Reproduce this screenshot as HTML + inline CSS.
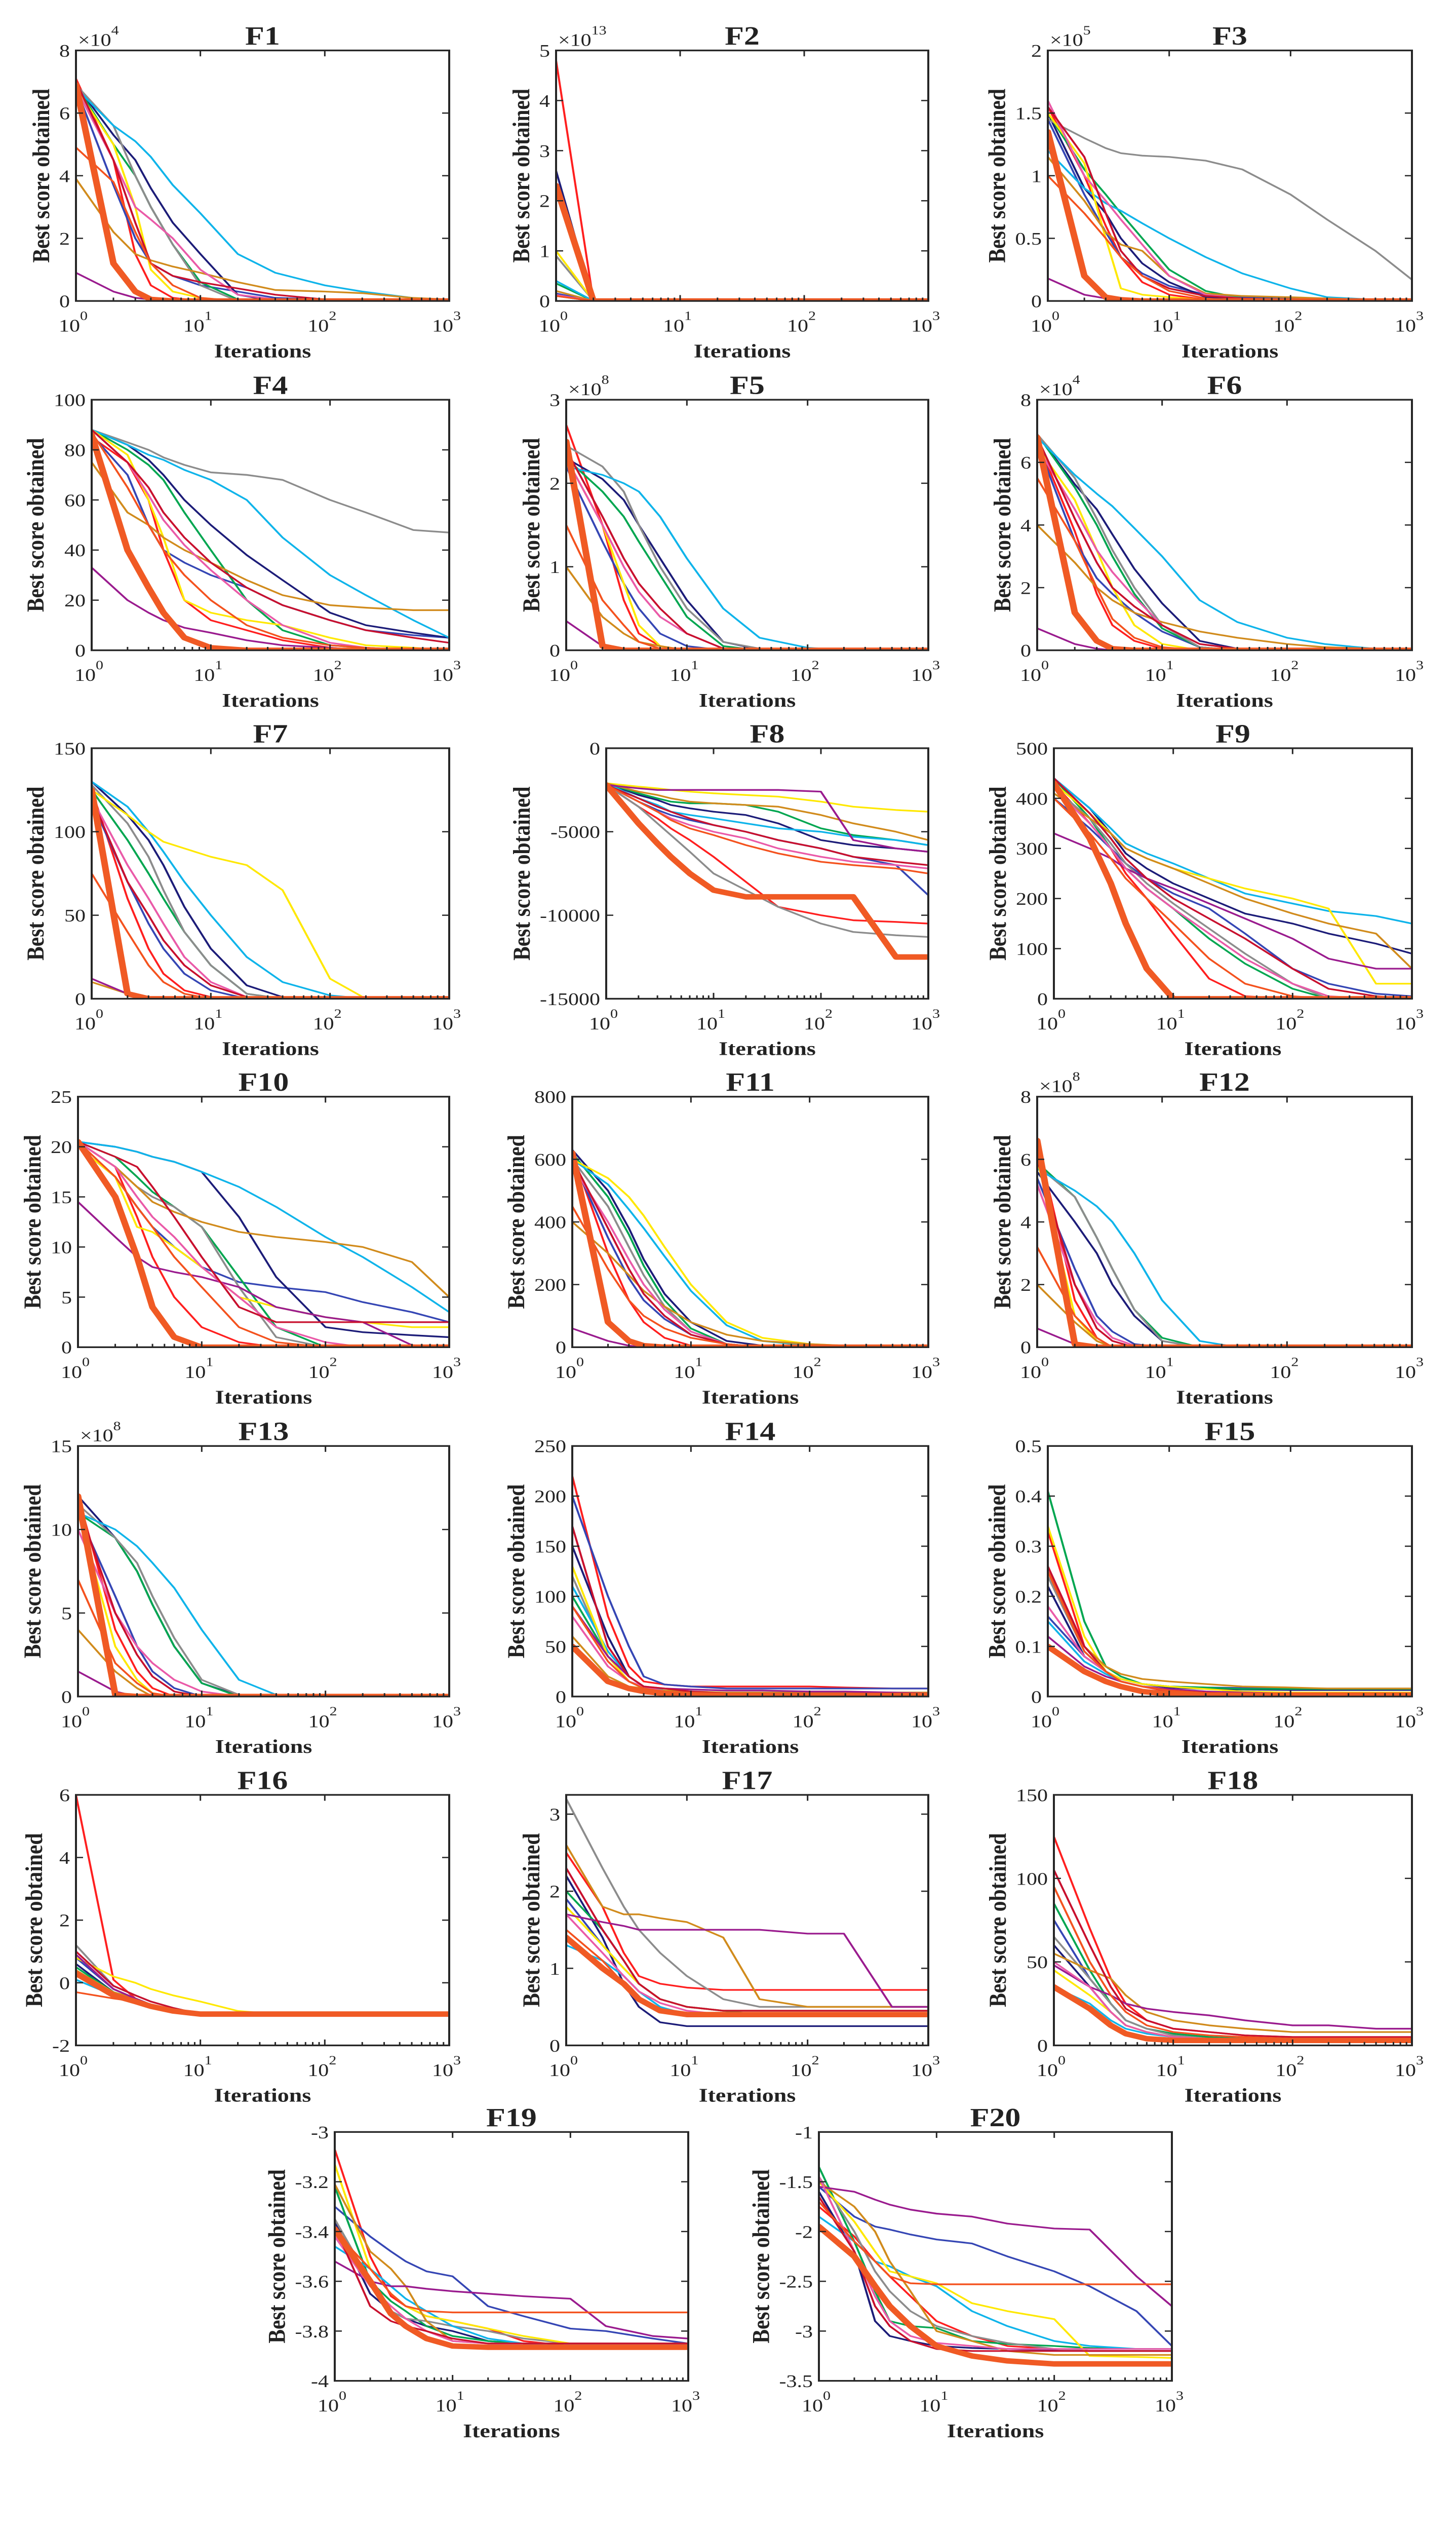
<!DOCTYPE html>
<html><head><meta charset="utf-8"><title>Convergence curves F1-F20</title>
<style>
html,body{margin:0;padding:0;background:#fff;width:100%;height:100%;overflow:hidden;}
svg{display:block;position:absolute;left:0;top:0;width:100vw;height:100vh;}
text{font-family:"Liberation Serif","DejaVu Serif",serif;fill:#222;}
</style></head>
<body>
<svg id="fig" xmlns="http://www.w3.org/2000/svg" viewBox="0 0 2875 6026" preserveAspectRatio="none"></svg>
<script>
// ---------- DATA ----------
const ITER = [1,2,3,4,6,10,20,40,100,200,500,1000];
// series order: red, blue, navy, green, gray, cyan, yellow, gold, purple, pink, crimson, orange, thick(proposed)
const SERIES_NAMES = ['red','blue','navy','green','gray','cyan','yellow','gold','purple','pink','crimson','orange','proposed'];

const F1_Y = [
[7.1,4.5,1.5,0.5,0.1,0,0,0,0,0,0,0],
[6.8,3.7,2.0,1.2,0.8,0.5,0.3,0.1,0.05,0,0,0],
[6.9,5.3,4.5,3.6,2.5,1.5,0.2,0,0,0,0,0],
[6.9,5.0,4.0,3.0,1.8,0.6,0.05,0,0,0,0,0],
[6.9,5.6,4.0,3.0,1.8,0.5,0,0,0,0,0,0],
[6.8,5.6,5.1,4.6,3.7,2.8,1.5,0.9,0.5,0.3,0.1,0],
[6.8,5.0,3.0,1.0,0.3,0.1,0,0,0,0,0,0],
[3.9,2.2,1.5,1.3,1.1,0.9,0.6,0.35,0.3,0.25,0.1,0.05],
[0.9,0.3,0.1,0.05,0,0,0,0,0,0,0,0],
[6.8,4.5,3.0,2.6,2.0,1.0,0.2,0.05,0,0,0,0],
[7.0,4.5,2.5,1.2,0.8,0.6,0.4,0.2,0.05,0,0,0],
[4.9,3.8,2.2,1.2,0.5,0.1,0,0,0,0,0,0],
[6.9,1.2,0.3,0.05,0,0,0,0,0,0,0,0]];
const F1_TICKS = [0,2,4,6,8];
const F1_LABELS = ['0','2','4','6','8'];

const F2_Y = [
[4.8,0,0,0,0,0,0,0,0,0,0,0],
[0.15,0,0,0,0,0,0,0,0,0,0,0],
[2.6,0,0,0,0,0,0,0,0,0,0,0],
[0.35,0,0,0,0,0,0,0,0,0,0,0],
[0.9,0,0,0,0,0,0,0,0,0,0,0],
[0.4,0,0,0,0,0,0,0,0,0,0,0],
[1.0,0,0,0,0,0,0,0,0,0,0,0],
[0.2,0,0,0,0,0,0,0,0,0,0,0],
[0.1,0,0,0,0,0,0,0,0,0,0,0],
[0.12,0,0,0,0,0,0,0,0,0,0,0],
[0.1,0,0,0,0,0,0,0,0,0,0,0],
[0.1,0,0,0,0,0,0,0,0,0,0,0],
[2.3,0,0,0,0,0,0,0,0,0,0,0]];
const F2_TICKS = [0,1,2,3,4,5];
const F2_LABELS = ['0','1','2','3','4','5'];

const F3_Y = [
[1.55,1.0,0.6,0.35,0.15,0.05,0.01,0,0,0,0,0],
[1.45,0.85,0.55,0.35,0.22,0.12,0.05,0.03,0.02,0.02,0.01,0.01],
[1.5,0.9,0.7,0.5,0.3,0.15,0.03,0.01,0,0,0,0],
[1.5,1.05,0.85,0.7,0.5,0.25,0.08,0.02,0.01,0,0,0],
[1.45,1.3,1.22,1.18,1.16,1.15,1.12,1.05,0.85,0.65,0.4,0.17],
[1.2,0.9,0.78,0.72,0.62,0.5,0.35,0.22,0.1,0.03,0.01,0],
[1.5,1.1,0.5,0.1,0.05,0.03,0.01,0,0,0,0,0],
[1.15,0.8,0.55,0.45,0.4,0.2,0.06,0.04,0.03,0.02,0.01,0.01],
[0.18,0.05,0.02,0.01,0,0,0,0,0,0,0,0],
[1.6,1.0,0.8,0.65,0.45,0.2,0.05,0.02,0,0,0,0],
[1.55,1.15,0.7,0.4,0.2,0.1,0.04,0.02,0.01,0,0,0],
[1.0,0.7,0.5,0.35,0.2,0.08,0.02,0,0,0,0,0],
[1.35,0.2,0.03,0.01,0,0,0,0,0,0,0,0]];
const F3_TICKS = [0,0.5,1,1.5,2];
const F3_LABELS = ['0','0.5','1','1.5','2'];

const F4_Y = [
[85,75,60,40,20,12,8,4,1,0,0,0],
[86,70,50,40,35,30,25,18,12,8,6,5],
[88,82,76,70,60,50,38,28,15,10,7,5],
[88,80,74,68,55,40,20,8,2,1,0,0],
[88,83,80,77,74,71,70,68,60,55,48,47],
[88,82,78,76,72,68,60,45,30,22,12,5],
[88,78,60,45,20,15,12,10,5,2,1,0],
[75,55,50,45,40,35,28,22,18,17,16,16],
[33,20,15,12,9,7,4,2,1,0,0,0],
[88,75,62,52,42,32,20,10,3,1,0,0],
[88,75,65,55,45,35,25,18,12,8,5,3],
[87,65,50,40,30,20,10,5,2,1,0,0],
[86,40,25,15,5,1,0,0,0,0,0,0]];
const F4_TICKS = [0,20,40,60,80,100];
const F4_LABELS = ['0','20','40','60','80','100'];

const F5_Y = [
[2.7,1.5,0.6,0.2,0.05,0,0,0,0,0,0,0],
[2.2,1.3,0.8,0.5,0.2,0.05,0,0,0,0,0,0],
[2.3,2.05,1.8,1.5,1.1,0.6,0.1,0.01,0,0,0,0],
[2.3,1.9,1.6,1.3,0.9,0.4,0.05,0,0,0,0,0],
[2.45,2.2,1.9,1.5,1.0,0.5,0.1,0.02,0,0,0,0],
[2.2,2.1,2.0,1.9,1.6,1.1,0.5,0.15,0.03,0,0,0],
[2.3,1.5,0.8,0.3,0.05,0,0,0,0,0,0,0],
[1.0,0.4,0.2,0.1,0.05,0,0,0,0,0,0,0],
[0.35,0.05,0,0,0,0,0,0,0,0,0,0],
[2.3,1.5,1.0,0.7,0.4,0.2,0.02,0,0,0,0,0],
[2.4,1.6,1.1,0.8,0.5,0.2,0.02,0,0,0,0,0],
[1.5,0.6,0.3,0.1,0.02,0,0,0,0,0,0,0],
[2.5,0.05,0,0,0,0,0,0,0,0,0,0]];
const F5_TICKS = [0,1,2,3];
const F5_LABELS = ['0','1','2','3'];

const F6_Y = [
[6.7,3.8,1.8,0.8,0.3,0.05,0,0,0,0,0,0],
[6.6,3.5,2.3,1.8,1.2,0.6,0.1,0,0,0,0,0],
[6.9,5.3,4.5,3.7,2.6,1.5,0.3,0.05,0,0,0,0],
[6.9,5.2,4.0,3.0,1.8,0.7,0.1,0,0,0,0,0],
[6.9,5.5,4.2,3.2,2.0,0.8,0.1,0,0,0,0,0],
[6.8,5.6,5.0,4.6,3.9,3.0,1.6,0.9,0.4,0.2,0.05,0],
[6.5,4.8,3.2,2.0,0.8,0.2,0,0,0,0,0,0],
[4.0,2.8,2.0,1.6,1.2,0.9,0.6,0.4,0.2,0.1,0.05,0.02],
[0.7,0.2,0.05,0,0,0,0,0,0,0,0,0],
[6.5,4.5,3.2,2.5,1.7,0.8,0.2,0.05,0,0,0,0],
[6.8,4.2,2.8,2.0,1.4,0.8,0.2,0.05,0,0,0,0],
[5.5,3.5,2.0,1.0,0.4,0.1,0,0,0,0,0,0],
[6.8,1.2,0.3,0.05,0,0,0,0,0,0,0,0]];
const F6_TICKS = [0,2,4,6,8];
const F6_LABELS = ['0','2','4','6','8'];

const F7_Y = [
[125,60,30,15,5,1,0,0,0,0,0,0],
[118,70,45,30,15,5,0,0,0,0,0,0],
[130,110,95,80,55,30,8,1,0,0,0,0],
[125,95,75,60,40,20,3,0,0,0,0,0],
[128,105,85,65,40,20,3,0,0,0,0,0],
[130,115,100,88,70,50,25,10,2,0,0,0],
[125,110,100,94,90,85,80,65,12,0,0,0],
[10,3,1,0,0,0,0,0,0,0,0,0],
[12,3,1,0,0,0,0,0,0,0,0,0],
[120,80,60,45,25,10,1,0,0,0,0,0],
[120,70,50,35,20,8,1,0,0,0,0,0],
[75,40,20,10,3,0,0,0,0,0,0,0],
[125,3,0,0,0,0,0,0,0,0,0,0]];
const F7_TICKS = [0,50,100,150];
const F7_LABELS = ['0','50','100','150'];

const F8_Y = [
[-2200,-3500,-4200,-4800,-5500,-6500,-8000,-9500,-10000,-10300,-10400,-10500],
[-2200,-3200,-3700,-4000,-4300,-4600,-5000,-5500,-6000,-6500,-7000,-8800],
[-2100,-2800,-3100,-3400,-3600,-3800,-4000,-4500,-5500,-5800,-6000,-6200],
[-2100,-2700,-3000,-3200,-3300,-3300,-3400,-3800,-4800,-5200,-5500,-5800],
[-2200,-3500,-4500,-5200,-6200,-7500,-8500,-9500,-10500,-11000,-11200,-11300],
[-2100,-3000,-3400,-3800,-4000,-4200,-4500,-4800,-5000,-5300,-5500,-5800],
[-2100,-2300,-2400,-2500,-2600,-2700,-2800,-2900,-3200,-3500,-3700,-3800],
[-2100,-2600,-2800,-3000,-3200,-3300,-3400,-3500,-4000,-4500,-5000,-5500],
[-2200,-2400,-2500,-2500,-2500,-2500,-2500,-2500,-2600,-5500,-6000,-6200],
[-2200,-3200,-3800,-4200,-4600,-5000,-5400,-6000,-6500,-6800,-7000,-7200],
[-2200,-3000,-3500,-3800,-4200,-4600,-5000,-5500,-6000,-6500,-6800,-7000],
[-2200,-3200,-3800,-4300,-4800,-5200,-5800,-6300,-6800,-7000,-7200,-7500],
[-2200,-4500,-5700,-6500,-7500,-8500,-8900,-8900,-8900,-8900,-12500,-12500]];
const F8_TICKS = [-15000,-10000,-5000,0];
const F8_LABELS = ['-15000','-10000','-5000','0'];

const F9_Y = [
[430,350,300,250,200,130,40,5,0,0,0,0],
[400,340,300,270,240,210,180,130,60,30,10,5],
[440,380,330,290,260,230,200,170,150,130,110,90],
[440,360,300,260,220,180,120,70,20,0,0,0],
[420,360,310,270,230,190,140,90,30,0,0,0],
[440,380,340,310,290,270,240,210,190,175,165,150],
[430,370,330,300,280,260,240,220,200,180,30,30],
[410,360,330,300,280,260,230,200,170,150,130,60],
[330,300,280,260,240,220,190,160,120,80,60,60],
[420,350,300,260,220,180,130,80,30,5,0,0],
[440,370,320,280,240,200,160,120,60,20,5,0],
[400,330,280,240,200,150,80,30,5,0,0,0],
[430,320,230,150,60,0,0,0,0,0,0,0]];
const F9_TICKS = [0,100,200,300,400,500];
const F9_LABELS = ['0','100','200','300','400','500'];

const F10_Y = [
[20.5,18,13,9,5,2,0.5,0,0,0,0,0],
[20,17,14,12,10,8,6.5,6,5.5,4.5,3.5,2.5],
[20.5,20,19.5,19,18.5,17.5,13,7,2,1.5,1.2,1],
[20.5,19,17,15.5,14,12,7,2,0,0,0,0],
[20.5,18,16,15,14,12,6,1,0,0,0,0],
[20.5,20,19.5,19,18.5,17.5,16,14,11,9,6,3.5],
[20,17,12,11.5,10,8,5,4,3,2.5,2,2],
[20.5,18,16,14.5,13.5,12.5,11.5,11,10.5,10,8.5,5],
[14.5,11,9,8,7.5,7,6,4,3,2.5,0.2,0],
[20.5,18,15,13,11,8,5,2,0.5,0,0,0],
[20.5,19,18,16,13,9,4,2.5,2.5,2.5,2.5,2.5],
[20.5,17,14,12,9,6,2,0.5,0,0,0,0],
[20.5,15,9,4,1,0,0,0,0,0,0,0]];
const F10_TICKS = [0,5,10,15,20,25];
const F10_LABELS = ['0','5','10','15','20','25'];

const F11_Y = [
[620,300,150,80,30,5,0,0,0,0,0,0],
[600,350,220,150,90,40,10,0,0,0,0,0],
[630,500,380,280,170,80,20,5,0,0,0,0],
[620,480,360,260,150,60,10,0,0,0,0,0],
[600,450,320,230,130,50,10,0,0,0,0,0],
[600,520,440,380,290,180,70,20,5,0,0,0],
[600,540,480,420,320,200,80,30,10,5,0,0],
[400,300,230,180,130,80,40,20,10,5,0,0],
[60,20,5,0,0,0,0,0,0,0,0,0],
[580,400,280,200,120,50,10,0,0,0,0,0],
[600,380,250,170,100,40,10,0,0,0,0,0],
[450,250,150,100,60,30,10,0,0,0,0,0],
[620,80,20,5,0,0,0,0,0,0,0,0]];
const F11_TICKS = [0,200,400,600,800];
const F11_LABELS = ['0','200','400','600','800'];

const F12_Y = [
[6.6,1.5,0.3,0,0,0,0,0,0,0,0,0],
[5.4,2.5,1.0,0.5,0.1,0,0,0,0,0,0,0],
[5.6,4.0,3.0,2.0,1.0,0.2,0,0,0,0,0,0],
[5.9,4.8,3.5,2.5,1.2,0.3,0,0,0,0,0,0],
[5.8,4.8,3.5,2.5,1.2,0.2,0,0,0,0,0,0],
[5.7,5.0,4.5,4.0,3.0,1.5,0.2,0,0,0,0,0],
[6.0,1.0,0.2,0,0,0,0,0,0,0,0,0],
[2.0,0.8,0.2,0,0,0,0,0,0,0,0,0],
[0.6,0.1,0,0,0,0,0,0,0,0,0,0],
[5.2,2.0,0.8,0.3,0.05,0,0,0,0,0,0,0],
[6.0,2.0,0.6,0.2,0,0,0,0,0,0,0,0],
[3.2,1.0,0.3,0,0,0,0,0,0,0,0,0],
[6.6,0.1,0,0,0,0,0,0,0,0,0,0]];
const F12_TICKS = [0,2,4,6,8];
const F12_LABELS = ['0','2','4','6','8'];

const F13_Y = [
[12,4,1.5,0.5,0,0,0,0,0,0,0,0],
[11,6,3,1.5,0.5,0,0,0,0,0,0,0],
[12,9.5,7.5,5.5,3,0.8,0.05,0,0,0,0,0],
[11,9.5,7.5,5.5,3,0.8,0,0,0,0,0,0],
[11.5,9.5,8,6,3.5,1,0.1,0,0,0,0,0],
[11,10,9,8,6.5,4,1,0.1,0,0,0,0],
[11,3,1,0.2,0,0,0,0,0,0,0,0],
[4,1.5,0.5,0,0,0,0,0,0,0,0,0],
[1.5,0.3,0,0,0,0,0,0,0,0,0,0],
[10,5,3,2,1,0.3,0,0,0,0,0,0],
[11.5,5,2.5,1.2,0.3,0,0,0,0,0,0,0],
[7,2,0.8,0.2,0,0,0,0,0,0,0,0],
[12,0.1,0,0,0,0,0,0,0,0,0,0]];
const F13_TICKS = [0,5,10,15];
const F13_LABELS = ['0','5','10','15'];

const F14_Y = [
[220,80,30,15,12,10,10,10,10,9,8,8],
[200,100,50,20,12,10,8,8,8,8,8,8],
[150,60,20,10,5,3,2,2,2,2,2,2],
[100,40,20,10,5,3,2,2,2,2,2,2],
[120,40,15,8,5,4,3,3,3,3,3,3],
[110,45,20,10,6,4,3,3,3,3,3,3],
[130,40,15,8,5,4,3,3,3,3,3,3],
[60,20,10,8,6,5,4,4,4,4,4,4],
[90,40,20,10,8,7,6,6,5,5,4,3],
[80,30,15,10,5,3,2,2,1,1,1,1],
[170,50,20,10,8,5,3,3,3,3,3,3],
[90,35,15,8,5,3,2,2,1,1,1,1],
[50,15,8,5,3,2,1,1,1,1,1,1]];
const F14_TICKS = [0,50,100,150,200,250];
const F14_LABELS = ['0','50','100','150','200','250'];

const F15_Y = [
[0.33,0.1,0.05,0.03,0.02,0.01,0.005,0.004,0.003,0.003,0.003,0.003],
[0.16,0.08,0.05,0.035,0.025,0.02,0.018,0.017,0.016,0.016,0.016,0.016],
[0.22,0.08,0.05,0.035,0.025,0.018,0.015,0.014,0.013,0.013,0.013,0.013],
[0.41,0.15,0.06,0.04,0.025,0.02,0.018,0.015,0.015,0.015,0.015,0.015],
[0.24,0.09,0.05,0.03,0.02,0.012,0.008,0.006,0.005,0.005,0.005,0.005],
[0.15,0.07,0.045,0.03,0.02,0.012,0.008,0.006,0.005,0.005,0.005,0.005],
[0.34,0.12,0.05,0.035,0.025,0.02,0.015,0.01,0.008,0.008,0.008,0.008],
[0.25,0.1,0.06,0.045,0.035,0.03,0.025,0.02,0.018,0.016,0.016,0.016],
[0.12,0.06,0.04,0.03,0.02,0.015,0.01,0.008,0.006,0.005,0.005,0.005],
[0.18,0.08,0.05,0.03,0.02,0.012,0.008,0.005,0.004,0.004,0.004,0.004],
[0.26,0.1,0.05,0.03,0.02,0.012,0.008,0.005,0.004,0.004,0.004,0.004],
[0.25,0.09,0.05,0.03,0.02,0.012,0.007,0.005,0.004,0.004,0.004,0.004],
[0.1,0.05,0.03,0.02,0.01,0.005,0.003,0.003,0.003,0.003,0.003,0.003]];
const F15_TICKS = [0,0.1,0.2,0.3,0.4,0.5];
const F15_LABELS = ['0','0.1','0.2','0.3','0.4','0.5'];

const F16_Y = [
[6,0.1,-0.5,-0.7,-0.85,-1,-1,-1,-1,-1,-1,-1],
[0.8,-0.2,-0.5,-0.7,-0.85,-1,-1,-1,-1,-1,-1,-1],
[0.6,-0.3,-0.55,-0.7,-0.85,-1,-1,-1,-1,-1,-1,-1],
[0.5,-0.3,-0.5,-0.7,-0.85,-1,-1,-1,-1,-1,-1,-1],
[1.2,-0.1,-0.4,-0.6,-0.8,-1,-1,-1,-1,-1,-1,-1],
[0.1,-0.4,-0.6,-0.75,-0.9,-1,-1,-1,-1,-1,-1,-1],
[0.8,0.2,0,-0.2,-0.4,-0.6,-0.9,-1,-1,-1,-1,-1],
[0.4,-0.3,-0.5,-0.7,-0.85,-1,-1,-1,-1,-1,-1,-1],
[0.9,-0.2,-0.5,-0.7,-0.85,-1,-1,-1,-1,-1,-1,-1],
[0.3,-0.35,-0.55,-0.7,-0.85,-1,-1,-1,-1,-1,-1,-1],
[1.0,-0.1,-0.4,-0.6,-0.8,-1,-1,-1,-1,-1,-1,-1],
[-0.3,-0.5,-0.6,-0.75,-0.9,-1,-1,-1,-1,-1,-1,-1],
[0.3,-0.4,-0.6,-0.75,-0.9,-1,-1,-1,-1,-1,-1,-1]];
const F16_TICKS = [-2,0,2,4,6];
const F16_LABELS = ['-2','0','2','4','6'];

const F17_Y = [
[2.5,1.8,1.2,0.9,0.8,0.75,0.72,0.72,0.72,0.72,0.72,0.72],
[1.9,1.3,1.0,0.8,0.6,0.5,0.45,0.45,0.45,0.45,0.45,0.45],
[2.2,1.4,0.8,0.5,0.3,0.25,0.25,0.25,0.25,0.25,0.25,0.25],
[2.0,1.5,1.1,0.8,0.6,0.5,0.45,0.4,0.4,0.4,0.4,0.4],
[3.2,2.3,1.8,1.5,1.2,0.9,0.6,0.5,0.5,0.5,0.5,0.5],
[1.3,1.1,0.9,0.7,0.5,0.4,0.4,0.4,0.4,0.4,0.4,0.4],
[1.8,1.3,1.0,0.8,0.6,0.5,0.45,0.45,0.45,0.45,0.45,0.45],
[2.6,1.8,1.7,1.7,1.65,1.6,1.4,0.6,0.5,0.5,0.5,0.5],
[1.7,1.6,1.55,1.5,1.5,1.5,1.5,1.5,1.45,1.45,0.5,0.5],
[1.7,1.2,0.9,0.7,0.55,0.45,0.4,0.4,0.4,0.4,0.4,0.4],
[2.3,1.5,1.1,0.8,0.6,0.5,0.45,0.45,0.45,0.45,0.45,0.45],
[1.5,1.1,0.8,0.6,0.45,0.4,0.4,0.4,0.4,0.4,0.4,0.4],
[1.4,1.0,0.8,0.6,0.45,0.4,0.4,0.4,0.4,0.4,0.4,0.4]];
const F17_TICKS = [0,1,2,3];
const F17_LABELS = ['0','1','2','3'];

const F18_Y = [
[125,70,40,25,15,10,8,6,5,5,5,5],
[75,40,25,15,10,7,5,4,4,4,4,4],
[60,35,20,12,8,5,4,3,3,3,3,3],
[85,45,25,15,10,7,5,4,3,3,3,3],
[65,40,25,15,10,6,4,3,3,3,3,3],
[35,25,15,10,7,5,4,3,3,3,3,3],
[45,30,20,12,8,5,4,3,3,3,3,3],
[55,45,40,30,20,15,12,10,8,8,8,8],
[48,35,30,25,22,20,18,15,12,12,10,10],
[50,35,20,12,8,5,4,3,3,3,3,3],
[105,60,35,22,15,10,8,6,5,5,5,5],
[95,50,30,20,12,8,6,5,4,4,4,4],
[35,22,12,7,4,3,3,3,3,3,3,3]];
const F18_TICKS = [0,50,100,150];
const F18_LABELS = ['0','50','100','150'];

const F19_Y = [
[-3.07,-3.5,-3.66,-3.7,-3.74,-3.76,-3.79,-3.84,-3.86,-3.86,-3.86,-3.86],
[-3.3,-3.42,-3.48,-3.52,-3.56,-3.58,-3.7,-3.74,-3.79,-3.8,-3.83,-3.85],
[-3.36,-3.65,-3.72,-3.75,-3.78,-3.8,-3.84,-3.85,-3.85,-3.85,-3.85,-3.85],
[-3.22,-3.6,-3.68,-3.72,-3.78,-3.82,-3.84,-3.85,-3.85,-3.85,-3.85,-3.85],
[-3.35,-3.6,-3.72,-3.75,-3.76,-3.78,-3.8,-3.83,-3.85,-3.85,-3.85,-3.85],
[-3.46,-3.55,-3.62,-3.67,-3.72,-3.78,-3.83,-3.85,-3.85,-3.85,-3.85,-3.85],
[-3.13,-3.55,-3.65,-3.7,-3.74,-3.76,-3.79,-3.82,-3.85,-3.85,-3.85,-3.85],
[-3.21,-3.48,-3.55,-3.62,-3.76,-3.84,-3.85,-3.85,-3.85,-3.85,-3.85,-3.85],
[-3.52,-3.6,-3.62,-3.62,-3.63,-3.64,-3.65,-3.66,-3.67,-3.78,-3.82,-3.83],
[-3.42,-3.62,-3.7,-3.75,-3.8,-3.84,-3.85,-3.85,-3.85,-3.85,-3.85,-3.85],
[-3.38,-3.7,-3.76,-3.78,-3.8,-3.83,-3.85,-3.85,-3.85,-3.85,-3.85,-3.85],
[-3.4,-3.55,-3.65,-3.7,-3.72,-3.725,-3.725,-3.725,-3.725,-3.725,-3.725,-3.725],
[-3.39,-3.6,-3.73,-3.78,-3.83,-3.86,-3.865,-3.865,-3.865,-3.865,-3.865,-3.865]];
const F19_TICKS = [-4,-3.8,-3.6,-3.4,-3.2,-3];
const F19_LABELS = ['-4','-3.8','-3.6','-3.4','-3.2','-3'];

const F20_Y = [
[-1.75,-2.05,-2.3,-2.45,-2.65,-2.9,-3.05,-3.15,-3.18,-3.2,-3.2,-3.2],
[-1.55,-1.85,-1.95,-1.98,-2.03,-2.08,-2.12,-2.25,-2.4,-2.55,-2.8,-3.15],
[-1.6,-2.2,-2.9,-3.05,-3.1,-3.15,-3.17,-3.18,-3.19,-3.2,-3.2,-3.2],
[-1.35,-2.1,-2.6,-2.9,-2.95,-2.97,-3.1,-3.13,-3.15,-3.17,-3.18,-3.18],
[-1.45,-2.0,-2.4,-2.6,-2.8,-2.95,-3.05,-3.12,-3.18,-3.2,-3.2,-3.2],
[-1.85,-2.1,-2.3,-2.35,-2.45,-2.55,-2.8,-2.95,-3.1,-3.15,-3.18,-3.18],
[-1.5,-1.9,-2.2,-2.4,-2.45,-2.52,-2.72,-2.8,-2.88,-3.25,-3.26,-3.27],
[-1.5,-1.75,-2.0,-2.3,-2.6,-3.0,-3.1,-3.2,-3.24,-3.24,-3.24,-3.24],
[-1.55,-1.6,-1.68,-1.73,-1.78,-1.82,-1.85,-1.92,-1.97,-1.98,-2.45,-2.75],
[-1.45,-2.2,-2.65,-2.9,-3.05,-3.12,-3.15,-3.18,-3.18,-3.18,-3.18,-3.18],
[-1.65,-2.2,-2.75,-2.95,-3.1,-3.18,-3.2,-3.2,-3.2,-3.2,-3.2,-3.2],
[-1.7,-2.1,-2.3,-2.45,-2.52,-2.53,-2.53,-2.53,-2.53,-2.53,-2.53,-2.53],
[-1.95,-2.25,-2.55,-2.75,-2.95,-3.15,-3.25,-3.3,-3.33,-3.33,-3.33,-3.33]];
const F20_TICKS = [-3.5,-3,-2.5,-2,-1.5,-1];
const F20_LABELS = ['-3.5','-3','-2.5','-2','-1.5','-1'];

const X_DECADES = [0,1,2,3];

// ---------- LAYOUT / STYLE ----------
const COLORS = ['#ff1f1f','#3546b4','#1c1c78','#00a650','#8c8c8c','#0fb4ea','#ffe800','#d18b1c','#9a1b8e','#ea5aa8','#c8102e','#f4521e','#f05a24'];
const ROWS = [120,951,1780,2609,3440,4270];
const H = 596;
const CHARTS = [
 {t:'F1', l:150, r:887, top:ROWS[0], ymin:0, ymax:8, exp:'4', y:F1_Y, tk:F1_TICKS, lb:F1_LABELS},
 {t:'F2', l:1098, r:1833, top:ROWS[0], ymin:0, ymax:5, exp:'13', y:F2_Y, tk:F2_TICKS, lb:F2_LABELS},
 {t:'F3', l:2069, r:2788, top:ROWS[0], ymin:0, ymax:2, exp:'5', y:F3_Y, tk:F3_TICKS, lb:F3_LABELS},
 {t:'F4', l:181, r:887, top:ROWS[1], ymin:0, ymax:100, exp:null, y:F4_Y, tk:F4_TICKS, lb:F4_LABELS},
 {t:'F5', l:1118, r:1833, top:ROWS[1], ymin:0, ymax:3, exp:'8', y:F5_Y, tk:F5_TICKS, lb:F5_LABELS},
 {t:'F6', l:2048, r:2788, top:ROWS[1], ymin:0, ymax:8, exp:'4', y:F6_Y, tk:F6_TICKS, lb:F6_LABELS},
 {t:'F7', l:181, r:887, top:ROWS[2], ymin:0, ymax:150, exp:null, y:F7_Y, tk:F7_TICKS, lb:F7_LABELS},
 {t:'F8', l:1197, r:1833, top:ROWS[2], ymin:-15000, ymax:0, exp:null, y:F8_Y, tk:F8_TICKS, lb:F8_LABELS},
 {t:'F9', l:2081, r:2788, top:ROWS[2], ymin:0, ymax:500, exp:null, y:F9_Y, tk:F9_TICKS, lb:F9_LABELS},
 {t:'F10', l:154, r:887, top:ROWS[3], ymin:0, ymax:25, exp:null, y:F10_Y, tk:F10_TICKS, lb:F10_LABELS},
 {t:'F11', l:1130, r:1833, top:ROWS[3], ymin:0, ymax:800, exp:null, y:F11_Y, tk:F11_TICKS, lb:F11_LABELS},
 {t:'F12', l:2048, r:2788, top:ROWS[3], ymin:0, ymax:8, exp:'8', y:F12_Y, tk:F12_TICKS, lb:F12_LABELS},
 {t:'F13', l:154, r:887, top:ROWS[4], ymin:0, ymax:15, exp:'8', y:F13_Y, tk:F13_TICKS, lb:F13_LABELS},
 {t:'F14', l:1130, r:1833, top:ROWS[4], ymin:0, ymax:250, exp:null, y:F14_Y, tk:F14_TICKS, lb:F14_LABELS},
 {t:'F15', l:2069, r:2788, top:ROWS[4], ymin:0, ymax:0.5, exp:null, y:F15_Y, tk:F15_TICKS, lb:F15_LABELS},
 {t:'F16', l:150, r:887, top:ROWS[5], ymin:-2, ymax:6, exp:null, y:F16_Y, tk:F16_TICKS, lb:F16_LABELS},
 {t:'F17', l:1118, r:1833, top:ROWS[5], ymin:0, ymax:3.25, exp:null, y:F17_Y, tk:F17_TICKS, lb:F17_LABELS},
 {t:'F18', l:2081, r:2788, top:ROWS[5], ymin:0, ymax:150, exp:null, y:F18_Y, tk:F18_TICKS, lb:F18_LABELS},
 {t:'F19', l:661, r:1359, top:5072, h:592, ymin:-4, ymax:-3, exp:null, y:F19_Y, tk:F19_TICKS, lb:F19_LABELS},
 {t:'F20', l:1617, r:2314, top:5072, h:592, ymin:-3.5, ymax:-1, exp:null, y:F20_Y, tk:F20_TICKS, lb:F20_LABELS}
];

// ---------- DRAW ----------
const NS = 'http://www.w3.org/2000/svg';
const svg = document.getElementById('fig');
function mk(tag, attrs, parent){
  const e = document.createElementNS(NS, tag);
  for (const k in attrs) e.setAttribute(k, attrs[k]);
  parent.appendChild(e);
  return e;
}
function labelWidth(s){
  let w = 0;
  for (const c of s){ if (c === '.') w += 10.5; else if (c === '-') w += 14; else w += 21; }
  return w;
}
const defs = mk('defs', {}, svg);

CHARTS.forEach((c, ci) => {
  const h = c.h || H;
  const L = c.l, R = c.r, T = c.top, B = T + h, W = R - L;
  const xs = it => L + Math.log10(it) / 3 * W;
  const ys = v => T + (c.ymax - v) / (c.ymax - c.ymin) * h;
  const key = c.t.toLowerCase();

  const g = mk('g', {}, svg);
  
  

  const cp = mk('clipPath', {id: 'clip' + ci}, defs);
  mk('rect', {x: L, y: T, width: W, height: h}, cp);

  const title = mk('text', {x: (L + R) / 2, y: T - 14, 'font-size': 62, 'font-weight': 'bold', 'text-anchor': 'middle'}, g);
  title.textContent = c.t;
  
  

  const sg = mk('g', {'clip-path': 'url(#clip' + ci + ')'}, g);
  
  
  c.y.forEach((vals, si) => {
    const pts = vals.map((v, i) => xs(ITER[i]).toFixed(1) + ',' + ys(v).toFixed(1)).join(' ');
    const thick = si === 12;
    const pl = mk('polyline', {points: pts, fill: 'none', stroke: COLORS[si], 'stroke-width': thick ? 13 : 4, 'stroke-linejoin': 'round', 'stroke-linecap': 'round'}, sg);
    
    
  });

  const tg = mk('g', {stroke: '#262626', 'stroke-width': 3}, g);
  
  
  X_DECADES.forEach(d => {
    const x = xs(Math.pow(10, d));
    mk('line', {x1: x, y1: B, x2: x, y2: B - 14}, tg);
    mk('line', {x1: x, y1: T, x2: x, y2: T + 14}, tg);
    if (d < 3) {
      for (let m = 2; m <= 9; m++) {
        const xm = xs(m * Math.pow(10, d));
        mk('line', {x1: xm, y1: B, x2: xm, y2: B - 8}, tg);
      }
    }
  });
  c.tk.forEach(v => {
    const y = ys(v);
    mk('line', {x1: L, y1: y, x2: L + 14, y2: y}, tg);
    mk('line', {x1: R, y1: y, x2: R - 14, y2: y}, tg);
  });

  const box = mk('rect', {x: L, y: T, width: W, height: h, fill: 'none', stroke: '#262626', 'stroke-width': 4}, g);
  
  

  let maxW = 0;
  c.lb.forEach((s, i) => {
    const t = mk('text', {x: L - 12, y: ys(c.tk[i]) + 15, 'font-size': 42, 'text-anchor': 'end'}, g);
    t.textContent = s;
    
    
    maxW = Math.max(maxW, labelWidth(s));
  });

  X_DECADES.forEach(d => {
    const x = xs(Math.pow(10, d));
    const t = mk('text', {x: x - 34, y: B + 73, 'font-size': 42}, g);
    t.textContent = '10';
    
    
    const s = mk('text', {x: x + 8, y: B + 45, 'font-size': 30}, g);
    s.textContent = String(d);
    
    
  });

  if (c.exp) {
    const m = mk('text', {x: L + 4, y: T - 11, 'font-size': 42}, g);
    
    
    const a = mk('tspan', {}, m);
    a.textContent = '\u00d710';
    const b = mk('tspan', {'font-size': 30, dy: -27}, m);
    b.textContent = c.exp;
  }

  const xl = mk('text', {x: (L + R) / 2, y: B + 134, 'font-size': 46, 'font-weight': 'bold', 'text-anchor': 'middle'}, g);
  xl.textContent = 'Iterations';
  
  

  const yx = L - 12 - maxW - 20;
  const yc = T + h / 2;
  const yl = mk('text', {x: yx, y: yc, 'font-size': 48, 'font-weight': 'bold', 'text-anchor': 'middle', transform: 'rotate(-90 ' + yx + ' ' + yc + ')', textLength: 414, lengthAdjust: 'spacingAndGlyphs'}, g);
  yl.textContent = 'Best score obtained';
  
  
});
</script>
</body></html>
